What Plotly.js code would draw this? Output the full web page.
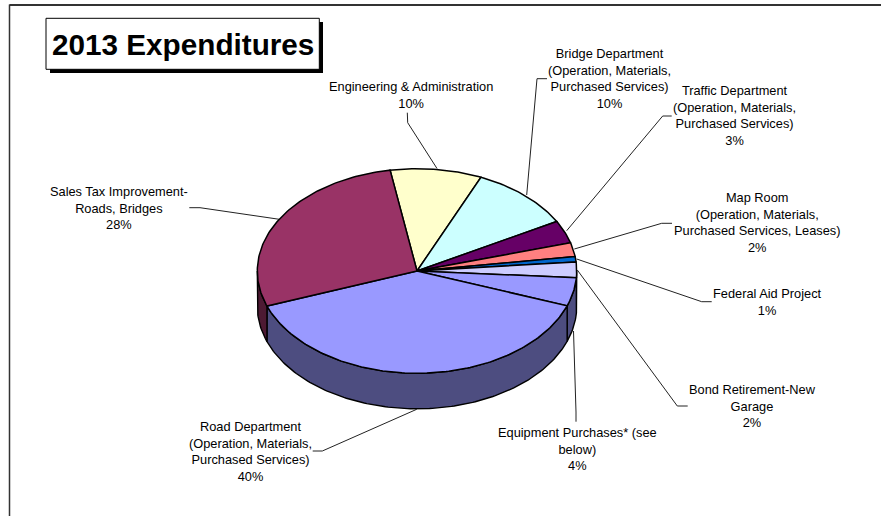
<!DOCTYPE html>
<html>
<head>
<meta charset="utf-8">
<script src="https://cdn.plot.ly/plotly-3.0.1.min.js"></script>
<style>html,body{margin:0;padding:0;background:#fff}#chart{width:881px;height:516px}</style>
</head>
<body>
<div id="chart"></div>
<script>
// Data, clockwise from the top of the pie
const categories = [
  "Engineering & Administration",
  "Bridge Department<br>(Operation, Materials,<br>Purchased Services)",
  "Traffic Department<br>(Operation, Materials,<br>Purchased Services)",
  "Map Room<br>(Operation, Materials,<br>Purchased Services, Leases)",
  "Federal Aid Project",
  "Bond Retirement-New<br>Garage",
  "Equipment Purchases* (see<br>below)",
  "Road Department<br>(Operation, Materials,<br>Purchased Services)",
  "Sales Tax Improvement-<br>Roads, Bridges"
];
const shownPercents = ["10%","10%","3%","2%","1%","2%","4%","40%","28%"];
const sliceValues = [9.25, 10.4, 3.6, 2.2, 0.83, 2.45, 4.5, 38.9, 27.87];

// Styles
const topColors  = ["#FFFFCC","#CCFFFF","#660066","#FF8080","#0066CC","#CCCCFF","#9999FF","#9999FF","#993366"];
const sideColors = ["#808066","#668080","#330033","#804040","#003366","#666680","#4D4D80","#4D4D80","#4D1A33"];
const FONT = "Arial, 'Liberation Sans', sans-serif";

// Pie geometry in the page-sized axes
const CX = 417, CY = 271, RX = 159.7, RY = 102.3, DEPTH = 35.5, START_DEG = 99.7;

// Label centres and leader polylines (label end, elbow, pie end)
const labelX = [410.5, 609.5, 734.5, 757, 767.5, 752, 577, 250, 119];
const labelY = [94.5, 78, 115, 222, 301.5, 405.5, 449, 451.5, 207.5];
const leaderX = [[407.3,407.7,437],[547,537,526.7],[671.7,662.7,566.7],[672,661.7,574.3],[711.7,701.7,576.7],[687.7,677.3,577.3],[576,576,573.5],[312.7,322.3,416.7],[189.3,200,279.3]];
const leaderY = [[112.7,122.7,168.5],[78.7,78.7,195],[116,116,230.7],[223.3,223.3,249],[301.7,301.7,259],[406,406,270],[421.7,412,331],[451,451,409.3],[207.7,207.7,219.3]];

const rad = d => d * Math.PI / 180;
const px = d => CX + RX * Math.cos(rad(d));
const py = (d, drop) => CY - RY * Math.sin(rad(d)) + (drop || 0);
function arc(a, b, drop) { // a -> b in degrees, sampled finely
  const n = Math.max(2, Math.ceil(Math.abs(b - a))), xs = [], ys = [];
  for (let i = 0; i <= n; i++) { const d = a + (b - a) * i / n; xs.push(px(d)); ys.push(py(d, drop)); }
  return {xs, ys};
}

const total = sliceValues.reduce((s, v) => s + v, 0);
let cursor = START_DEG;
const spans = sliceValues.map(v => { const from = cursor; cursor -= v / total * 360; return [from, cursor]; });

const sides = [], tops = [];
spans.forEach(([from, to], i) => {
  // visible wall: the part of the slice on the front half of the ellipse (0 to -180 degrees)
  const a = Math.min(from, 0), b = Math.max(to, -180);
  if (a > b) {
    const t = arc(a, b, 0), m = arc(b, a, DEPTH);
    sides.push({type:"scatter", mode:"lines", x:t.xs.concat(m.xs, [t.xs[0]]), y:t.ys.concat(m.ys, [t.ys[0]]),
      fill:"toself", fillcolor:sideColors[i], line:{color:"#000", width:1.4}, hoverinfo:"skip", showlegend:false});
  }
  // the back part of the last slice wraps past -180 and is closed by the left wall below
  const c = Math.min(from, -180), d = Math.max(to, -360);
  if (c > d && c > -270) {
    const e = Math.max(d, -180);
    if (c > e) {
      const t = arc(c, e, 0), m = arc(e, c, DEPTH);
      sides.push({type:"scatter", mode:"lines", x:t.xs.concat(m.xs, [t.xs[0]]), y:t.ys.concat(m.ys, [t.ys[0]]),
        fill:"toself", fillcolor:sideColors[i], line:{color:"#000", width:1.4}, hoverinfo:"skip", showlegend:false});
    }
  }
  const t = arc(from, to, 0);
  tops.push({type:"scatter", mode:"lines", x:[CX].concat(t.xs, [CX]), y:[CY].concat(t.ys, [CY]),
    fill:"toself", fillcolor:topColors[i], line:{color:"#000", width:1.5}, name:categories[i].replace(/<br>/g," "),
    text:shownPercents[i], hoverinfo:"name+text", showlegend:false});
});

const leaders = categories.map((c, i) => ({type:"scatter", mode:"lines", x:leaderX[i], y:leaderY[i],
  line:{color:"#222", width:1}, hoverinfo:"skip", showlegend:false}));

const annotations = categories.map((c, i) => ({
  xref:"x", yref:"y", x:labelX[i], y:labelY[i], xanchor:"center", yanchor:"middle", showarrow:false, align:"center",
  text:c + "<br>" + shownPercents[i], font:{family:FONT, size:12.8, color:"#000"}
}));
annotations.push({xref:"x", yref:"y", x:182.5, y:44, xanchor:"center", yanchor:"middle", showarrow:false,
  text:"<b>2013 Expenditures</b>", font:{family:FONT, size:29.7, color:"#000"}});

const shapes = [
  {type:"line", x0:9.5, x1:9.5, y0:516, y1:4.5, line:{color:"#333", width:1.5}},
  {type:"line", x0:9.5, x1:881, y0:5, y1:5, line:{color:"#333", width:2}},
  {type:"rect", x0:50, x1:323, y0:22, y1:73, fillcolor:"#000", line:{width:0}},
  {type:"rect", x0:46, x1:319.3, y0:18.3, y1:69.3, fillcolor:"#fff", line:{color:"#000", width:1}}
];

Plotly.newPlot("chart", leaders.concat(sides, tops), {
  width:881, height:516, margin:{l:0,r:0,t:0,b:0}, paper_bgcolor:"#fff", plot_bgcolor:"#fff",
  xaxis:{range:[0,881], visible:false, fixedrange:true},
  yaxis:{range:[516,0], visible:false, fixedrange:true},
  shapes, annotations, showlegend:false
}, {displayModeBar:false});
</script>
</body>
</html>
